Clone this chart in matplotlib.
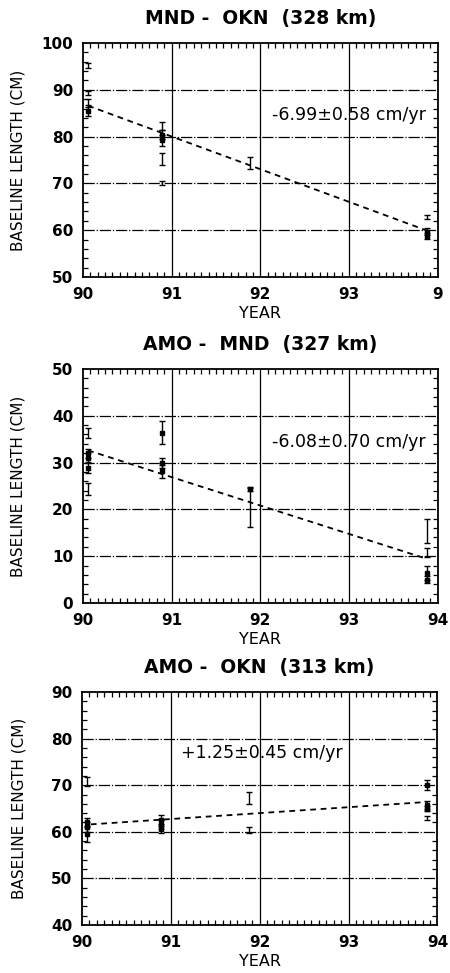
import matplotlib
matplotlib.use("Agg")
import matplotlib.pyplot as plt
from matplotlib.ticker import MultipleLocator, FixedLocator

# ---- data ----
titles = ["MND -  OKN  (328 km)", "AMO -  MND  (327 km)", "AMO -  OKN  (313 km)"]
rates = ["-6.99\u00b10.58 cm/yr", "-6.08\u00b10.70 cm/yr", "+1.25\u00b10.45 cm/yr"]
ylims = [(50, 100), (0, 50), (40, 90)]
xtick_vals = [90, 91, 92, 93, 94]
xtick_labels = [["90", "91", "92", "93", "9"],
                ["90", "91", "92", "93", "94"],
                ["90", "91", "92", "93", "94"]]

p1_year = [90.06, 90.06, 90.06, 90.06, 90.89, 90.89, 90.89, 90.89, 90.89, 91.88, 93.88, 93.88, 93.88]
p1_len = [95.2, 89.3, 87.2, 85.5, 82.3, 80.4, 79.2, 75.2, 70.1, 74.3, 62.8, 59.7, 58.7]
p1_err = [0.6, 0.5, 0.9, 1.2, 0.8, 1.0, 1.2, 1.2, 0.5, 1.3, 0.5, 0.7, 0.6]
p1_fill = [0, 0, 0, 1, 0, 1, 1, 0, 0, 0, 0, 1, 1]
p1_fit_x = [90.06, 93.88]
p1_fit_y = [86.6, 59.9]

p2_year = [90.06, 90.06, 90.06, 90.06, 90.06, 90.89, 90.89, 90.89, 91.88, 91.88, 93.88, 93.88, 93.88, 93.88]
p2_len = [36.3, 32.0, 31.0, 28.9, 24.3, 36.4, 29.9, 28.1, 24.4, 20.4, 15.4, 10.8, 6.5, 5.0]
p2_err = [1.0, 1.0, 1.0, 1.2, 1.3, 2.4, 1.1, 1.3, 0.4, 4.1, 2.6, 1.0, 1.5, 0.7]
p2_fill = [0, 1, 1, 1, 0, 1, 1, 1, 1, 0, 0, 0, 1, 1]
p2_fit_x = [90.06, 93.88]
p2_fit_y = [32.6, 9.4]

p3_year = [90.06, 90.06, 90.06, 90.06, 90.89, 90.89, 90.89, 91.88, 91.88, 93.88, 93.88, 93.88, 93.88]
p3_len = [70.8, 62.0, 61.0, 59.5, 62.6, 61.5, 60.5, 67.2, 60.4, 70.0, 65.8, 65.0, 63.0]
p3_err = [1.0, 1.0, 1.0, 1.7, 1.0, 1.0, 0.7, 1.3, 0.6, 1.1, 0.8, 0.6, 0.4]
p3_fill = [0, 1, 1, 1, 1, 1, 1, 0, 0, 1, 1, 1, 0]
p3_fit_x = [90.1, 93.88]
p3_fit_y = [61.6, 66.4]

panels = [(p1_year, p1_len, p1_err, p1_fill, p1_fit_x, p1_fit_y),
          (p2_year, p2_len, p2_err, p2_fill, p2_fit_x, p2_fit_y),
          (p3_year, p3_len, p3_err, p3_fill, p3_fit_x, p3_fit_y)]

# where the rate text sits (data coords, right edge) in each panel
text_pos = [(93.86, 84.6), (93.86, 34.5), (92.93, 77.0)]

# ---- figure ----
fig = plt.figure(figsize=(4.5, 9.73), dpi=100)
rects = [[0.184, 0.7153, 0.789, 0.2405],
         [0.184, 0.3803, 0.789, 0.2405],
         [0.182, 0.0493, 0.790, 0.2395]]
ylabel_x = [-0.16, -0.16, -0.155]

for i, (yr, ln, er, fl, fx, fy) in enumerate(panels):
    ax = fig.add_axes(rects[i])
    ax.set_xlim(90, 94)
    ax.set_ylim(*ylims[i])

    # grid: dash-dot horizontals, plain verticals
    for v in range(int(ylims[i][0]) + 10, int(ylims[i][1]), 10):
        ax.axhline(v, color="black", lw=0.9, ls=(0, (9, 1.5, 1, 1.5)), zorder=1)
    for v in [91, 92, 93]:
        ax.axvline(v, color="black", lw=0.9, zorder=1)

    # open points (bar only) and filled points
    for x, y, e, f in zip(yr, ln, er, fl):
        ax.errorbar(x, y, yerr=e, fmt="s" if f else "none", ms=3.2,
                    color="black", ecolor="black", elinewidth=1.0,
                    capsize=2.5, capthick=1.0, zorder=3)

    ax.plot(fx, fy, color="black", lw=1.3, ls=(0, (3.2, 2.6)), zorder=2)

    ax.text(text_pos[i][0], text_pos[i][1], rates[i], ha="right", va="center",
            fontsize=12.5)

    ax.set_title(titles[i], fontsize=13.5, fontweight="bold", pad=14)

    ax.xaxis.set_major_locator(FixedLocator(xtick_vals))
    ax.set_xticklabels(xtick_labels[i])
    ax.yaxis.set_major_locator(MultipleLocator(10))
    ax.xaxis.set_minor_locator(MultipleLocator(1 / 12))
    ax.yaxis.set_minor_locator(MultipleLocator(2))
    ax.tick_params(which="both", direction="in", top=True, right=True)
    ax.tick_params(which="major", length=0, labelsize=11, pad=7)
    ax.tick_params(which="minor", length=3.5, width=0.9)
    for lab in ax.get_xticklabels() + ax.get_yticklabels():
        lab.set_fontweight("bold")
    for s in ax.spines.values():
        s.set_linewidth(1.3)

    ax.set_xlabel("YEAR", fontsize=11.5, labelpad=3)
    ax.set_ylabel("BASELINE LENGTH (CM)", fontsize=11)
    ax.yaxis.set_label_coords(ylabel_x[i], 0.5)

fig.savefig("out.png", dpi=100)
